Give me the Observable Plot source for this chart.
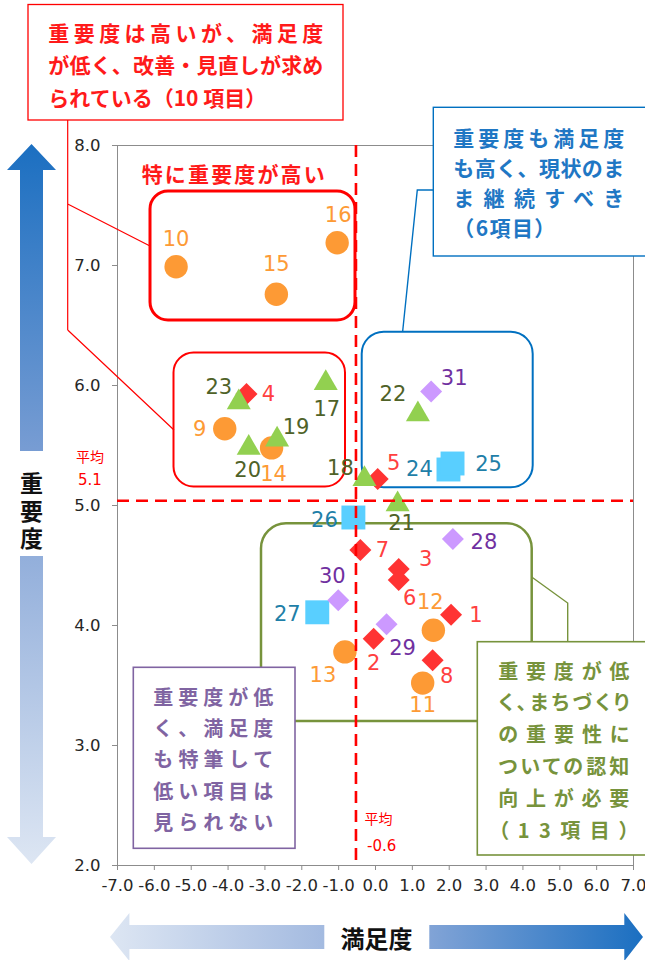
<!DOCTYPE html>
<html><head><meta charset="utf-8">
<script src="https://cdn.jsdelivr.net/npm/d3@7"></script>
<script src="https://cdn.jsdelivr.net/npm/@observablehq/plot@0.6"></script>
<style>
html,body{margin:0;padding:0;background:#fff;overflow:hidden;}
#chart{width:645px;height:960px;overflow:hidden;position:relative;}
#chart svg{display:block;}
</style></head><body><div id="chart"></div>
<script>
// ---------------- data ----------------
const itemNo = [1,2,3,4,5,6,7,8, 9,10,11,12,13,14,15,16, 17,18,19,20,21,22,23, 24,25,26,27, 28,29,30,31];
const satisfaction = [2.05,-0.05,0.63,-3.50,0.06,0.63,-0.41,1.55, -4.09,-5.41,1.28,1.57,-0.83,-2.82,-2.69,-1.04, -1.35,-0.30,-2.67,-3.44,0.60,1.15,-3.71, 1.98,2.09,-0.60,-1.58, 2.10,0.30,-1.01,1.51];
const importance   = [4.09,3.89,4.47,5.93,5.22,4.38,4.63,3.71, 5.64,6.99,3.52,3.96,3.78,5.48,6.76,7.19, 6.02,5.22,5.55,5.48,5.01,5.76,5.86, 5.30,5.35,4.90,4.11, 4.72,4.01,4.21,5.95];
const seriesOf = ["A","A","A","A","A","A","A","A", "B","B","B","B","B","B","B","B", "C","C","C","C","C","C","C", "D","D","D","D", "E","E","E","E"];
const seriesNames = ["A","B","C","D","E"];
const xTicks = [-7,-6,-5,-4,-3,-2,-1,0,1,2,3,4,5,6,7];
const yTicks = [2,3,4,5,6,7,8];
const avgLineX = -0.53, avgLineY = 5.04;      // drawn positions of the average lines
const avgLabelX = "-0.6", avgLabelY = "5.1";  // printed averages
const xTitle = "満足度", yTitle = "重要度";
const calloutRed = ["重要度は高いが、満足度","が低く、改善・見直しが求め","られている（10 項目）"];
const calloutBlue = ["重要度も満足度","も高く、現状のま","ま継続すべき","（6項目）"];
const calloutGreen = ["重要度が低","く、まちづくり","の重要性に","ついての認知","向上が必要","（13項目）"];
const calloutPurple = ["重要度が低","く、満足度","も特筆して","低い項目は","見られない"];
const groupTitle = "特に重要度が高い";
const avgWord = "平均";

// ---------------- styles ----------------
const seriesStyle = {
  A: {symbol: d3.symbolDiamond2, r: 9.9, fill: "#ff3333", text: "#ff4040"},
  B: {symbol: d3.symbolCircle,   r: 11.7, fill: "#fd9a35", text: "#fd9a35"},
  C: {symbol: d3.symbolTriangle, r: 8.9, fill: "#92d050", text: "#4f6228"},
  D: {symbol: d3.symbolSquare,   r: 13.5, fill: "#59cfff", text: "#1f7fa8"},
  E: {symbol: d3.symbolDiamond2, r: 9.9, fill: "#cc99ff", text: "#7030a0"}
};
const labelOffset = {
  1:[25,1], 2:[0,25], 3:[27,-10], 4:[22,0], 5:[16,-16], 6:[11,18], 7:[22,0], 8:[14,16],
  9:[-25,1], 10:[0,-27], 11:[0,22], 12:[-3,-28], 13:[-22,23], 14:[2,26], 15:[0,-30], 16:[1,-27],
  17:[1,26], 18:[-24,-11], 19:[19,-12], 20:[-1,22], 21:[4,19], 22:[-25,-20], 23:[-20,-15],
  24:[-29,0], 25:[36,1], 26:[-29,3], 27:[-30,2], 28:[31,3], 29:[16,24], 30:[-6,-24], 31:[23,-13]
};
const JP = "'Noto Sans CJK JP','Noto Sans CJK SC',sans-serif";
const LAT = "'DejaVu Sans',Verdana,sans-serif";
const GRAY = "#8c8c8c";

const items = itemNo.map((n,i) => ({n, x: satisfaction[i], y: importance[i], s: seriesOf[i]}));

const marks = [Plot.frame({stroke: GRAY})];
for (const s of seriesNames) {
  const st = seriesStyle[s];
  marks.push(Plot.dot(items.filter(d => d.s === s), {x: "x", y: "y", symbol: st.symbol, r: st.r, fill: st.fill, stroke: "none"}));
}
for (const d of items) {
  const [dx, dy] = labelOffset[d.n];
  marks.push(Plot.text([d], {x: "x", y: "y", text: dd => String(dd.n), dx, dy, fill: seriesStyle[d.s].text, fontSize: 21}));
}
marks.push(Plot.ruleX([avgLineX], {stroke: "#ff0000", strokeWidth: 2.6, strokeDasharray: "12,7"}));
marks.push(Plot.ruleY([avgLineY], {stroke: "#ff0000", strokeWidth: 2.6, strokeDasharray: "12,7"}));

const plot = Plot.plot({
  width: 645, height: 960,
  marginLeft: 117, marginRight: 12, marginTop: 145, marginBottom: 95,
  x: {domain: [-7, 7], ticks: xTicks, tickFormat: d => d.toFixed(1), tickSize: 5, tickPadding: 9, label: null},
  y: {domain: [2, 8], ticks: yTicks, tickFormat: d => d.toFixed(1), tickSize: 5, tickPadding: 12, label: null},
  style: {fontFamily: LAT, fontSize: "16.5px", color: "#262626", background: "#fff"},
  marks
});
document.getElementById("chart").append(plot);

const svg = d3.select(plot);
svg.selectAll('[aria-label^="x-axis"] path, [aria-label^="y-axis"] path, [aria-label^="x-axis"] line, [aria-label^="y-axis"] line').attr("stroke", GRAY);
svg.selectAll('[aria-label="x-axis tick"], [aria-label="y-axis tick"]').attr("stroke", GRAY);

// ---------------- overlay ----------------
const NS = "http://www.w3.org/2000/svg";
const styleEl = plot.querySelector("style");
const underNode = document.createElementNS(NS, "g");
plot.insertBefore(underNode, styleEl ? styleEl.nextSibling : plot.firstChild);
const under = d3.select(underNode);
const over = svg.append("g");

const defs = svg.append("defs");
const gv = defs.append("linearGradient").attr("id","gv").attr("gradientUnits","userSpaceOnUse")
  .attr("x1",0).attr("y1",144).attr("x2",0).attr("y2",864);
gv.append("stop").attr("offset",0).attr("stop-color","#1b6fc1");
gv.append("stop").attr("offset",0.45).attr("stop-color","#7d9fd4");
gv.append("stop").attr("offset",1).attr("stop-color","#dde6f3");
const gh = defs.append("linearGradient").attr("id","gh").attr("gradientUnits","userSpaceOnUse")
  .attr("x1",110).attr("y1",0).attr("x2",643).attr("y2",0);
gh.append("stop").attr("offset",0).attr("stop-color","#dde6f3");
gh.append("stop").attr("offset",0.55).attr("stop-color","#8eaad9");
gh.append("stop").attr("offset",1).attr("stop-color","#1b6fc1");

function rbox(g, x0, y0, x1, y1, rx, stroke, sw) {
  g.append("rect").attr("x",x0).attr("y",y0).attr("width",x1-x0).attr("height",y1-y0)
   .attr("rx",rx).attr("ry",rx).attr("fill","none").attr("stroke",stroke).attr("stroke-width",sw);
}
rbox(under, 150, 191, 355, 320, 18, "#ff0000", 3);
rbox(under, 173.5, 352.5, 345, 486.5, 20, "#ff0000", 2);
rbox(under, 361.7, 331.7, 532.7, 487.3, 22, "#0070c0", 2);
rbox(under, 261, 523.3, 531.7, 721, 25, "#77933c", 2.5);

function jtext(g, str, x, y, o) {
  const t = g.append("text").attr("x", x).attr("y", y)
    .attr("font-family", o.family || JP).attr("font-size", o.size).attr("font-weight", o.weight || "bold")
    .attr("fill", o.color).attr("dominant-baseline", "central")
    .attr("text-anchor", o.anchor || "start").text(str);
  if (o.len) t.attr("textLength", o.len).attr("lengthAdjust", "spacing");
  if (o.palt) t.style("font-feature-settings", '"palt"');
  return t;
}
function box(g, x0, y0, x1, y1, stroke, sw) {
  g.append("rect").attr("x",x0).attr("y",y0).attr("width",x1-x0).attr("height",y1-y0)
   .attr("fill","#fff").attr("stroke",stroke).attr("stroke-width",sw);
}
function line(g, d, stroke, sw) {
  g.append("path").attr("d", d).attr("fill","none").attr("stroke",stroke).attr("stroke-width",sw);
}

// red callout
line(over, "M67.7,120 V330 M67.7,204 L150,246 M67.7,330 L174,430", "#ff0000", 1.2);
box(over, 28, 4.5, 343, 120, "#ff0000", 1.3);
calloutRed.forEach((s,i) => jtext(over, s, 48.3, 31.7 + i*32.5, {size: 21, color: "#ff1a1a", len: i < 2 ? 275 : null}));
jtext(over, groupTitle, 141.7, 173, {size: 21, color: "#ff1a1a", len: 183});

// blue callout
line(over, "M402.7,331 L417.3,190 H433.3", "#0070c0", 1.4);
box(over, 433.3, 107.3, 660, 256, "#0070c0", 1.4);
calloutBlue.forEach((s,i) => jtext(over, s, 453.3, 136.5 + i*30.3, {size: 21, color: "#1f77c4", len: i < 3 ? 171 : 102}));

// green callout
line(over, "M531.7,577 L567.7,603 V642", "#77933c", 1.4);
box(over, 477.3, 641.7, 660, 855, "#77933c", 1.6);
calloutGreen.forEach((s,i) => jtext(over, s, 498.3, 670 + i*31.8, {size: 20, color: "#77933c", len: 131, palt: true}));

// purple callout
box(over, 133.3, 667.3, 295, 848.3, "#8064a2", 1.6);
calloutPurple.forEach((s,i) => jtext(over, s, 153.3, 696 + i*31.4, {size: 20, color: "#8064a2", len: 120}));

// average labels
jtext(over, avgWord, 90, 456, {size: 14, color: "#ff0000", weight: "normal", anchor: "middle"});
jtext(over, avgLabelY, 90, 480, {size: 15, color: "#ff0000", weight: "normal", anchor: "middle", family: LAT});
jtext(over, avgWord, 364.5, 818, {size: 14, color: "#ff0000", weight: "normal"});
jtext(over, avgLabelX, 367, 846, {size: 15, color: "#ff0000", weight: "normal", family: LAT});

// vertical gradient arrow (importance)
over.append("path").attr("fill","url(#gv)")
  .attr("d","M31.5,144 L56,170 L43,170 L43,451 L20,451 L20,170 L7,170 Z");
over.append("path").attr("fill","url(#gv)")
  .attr("d","M20,556 L43,556 L43,837 L56,837 L31.5,864 L7,837 L20,837 Z");
over.append("text").attr("x", 31.5).attr("y", 513.5)
  .attr("font-family", JP).attr("font-size", 23).attr("font-weight", "bold").attr("fill", "#111")
  .attr("text-anchor", "middle").style("writing-mode", "vertical-rl").style("letter-spacing", "4.5px")
  .text(yTitle);

// horizontal gradient arrow (satisfaction)
over.append("path").attr("fill","url(#gh)")
  .attr("d","M110,937 L129.4,913 L129.4,925 L324.3,925 L324.3,949 L129.4,949 L129.4,961 Z");
over.append("path").attr("fill","url(#gh)")
  .attr("d","M429.3,925 L624.3,925 L624.3,913 L643,937 L624.3,961 L624.3,949 L429.3,949 Z");
jtext(over, xTitle, 376.5, 937, {size: 24, color: "#111", anchor: "middle"});
</script>
</body></html>
